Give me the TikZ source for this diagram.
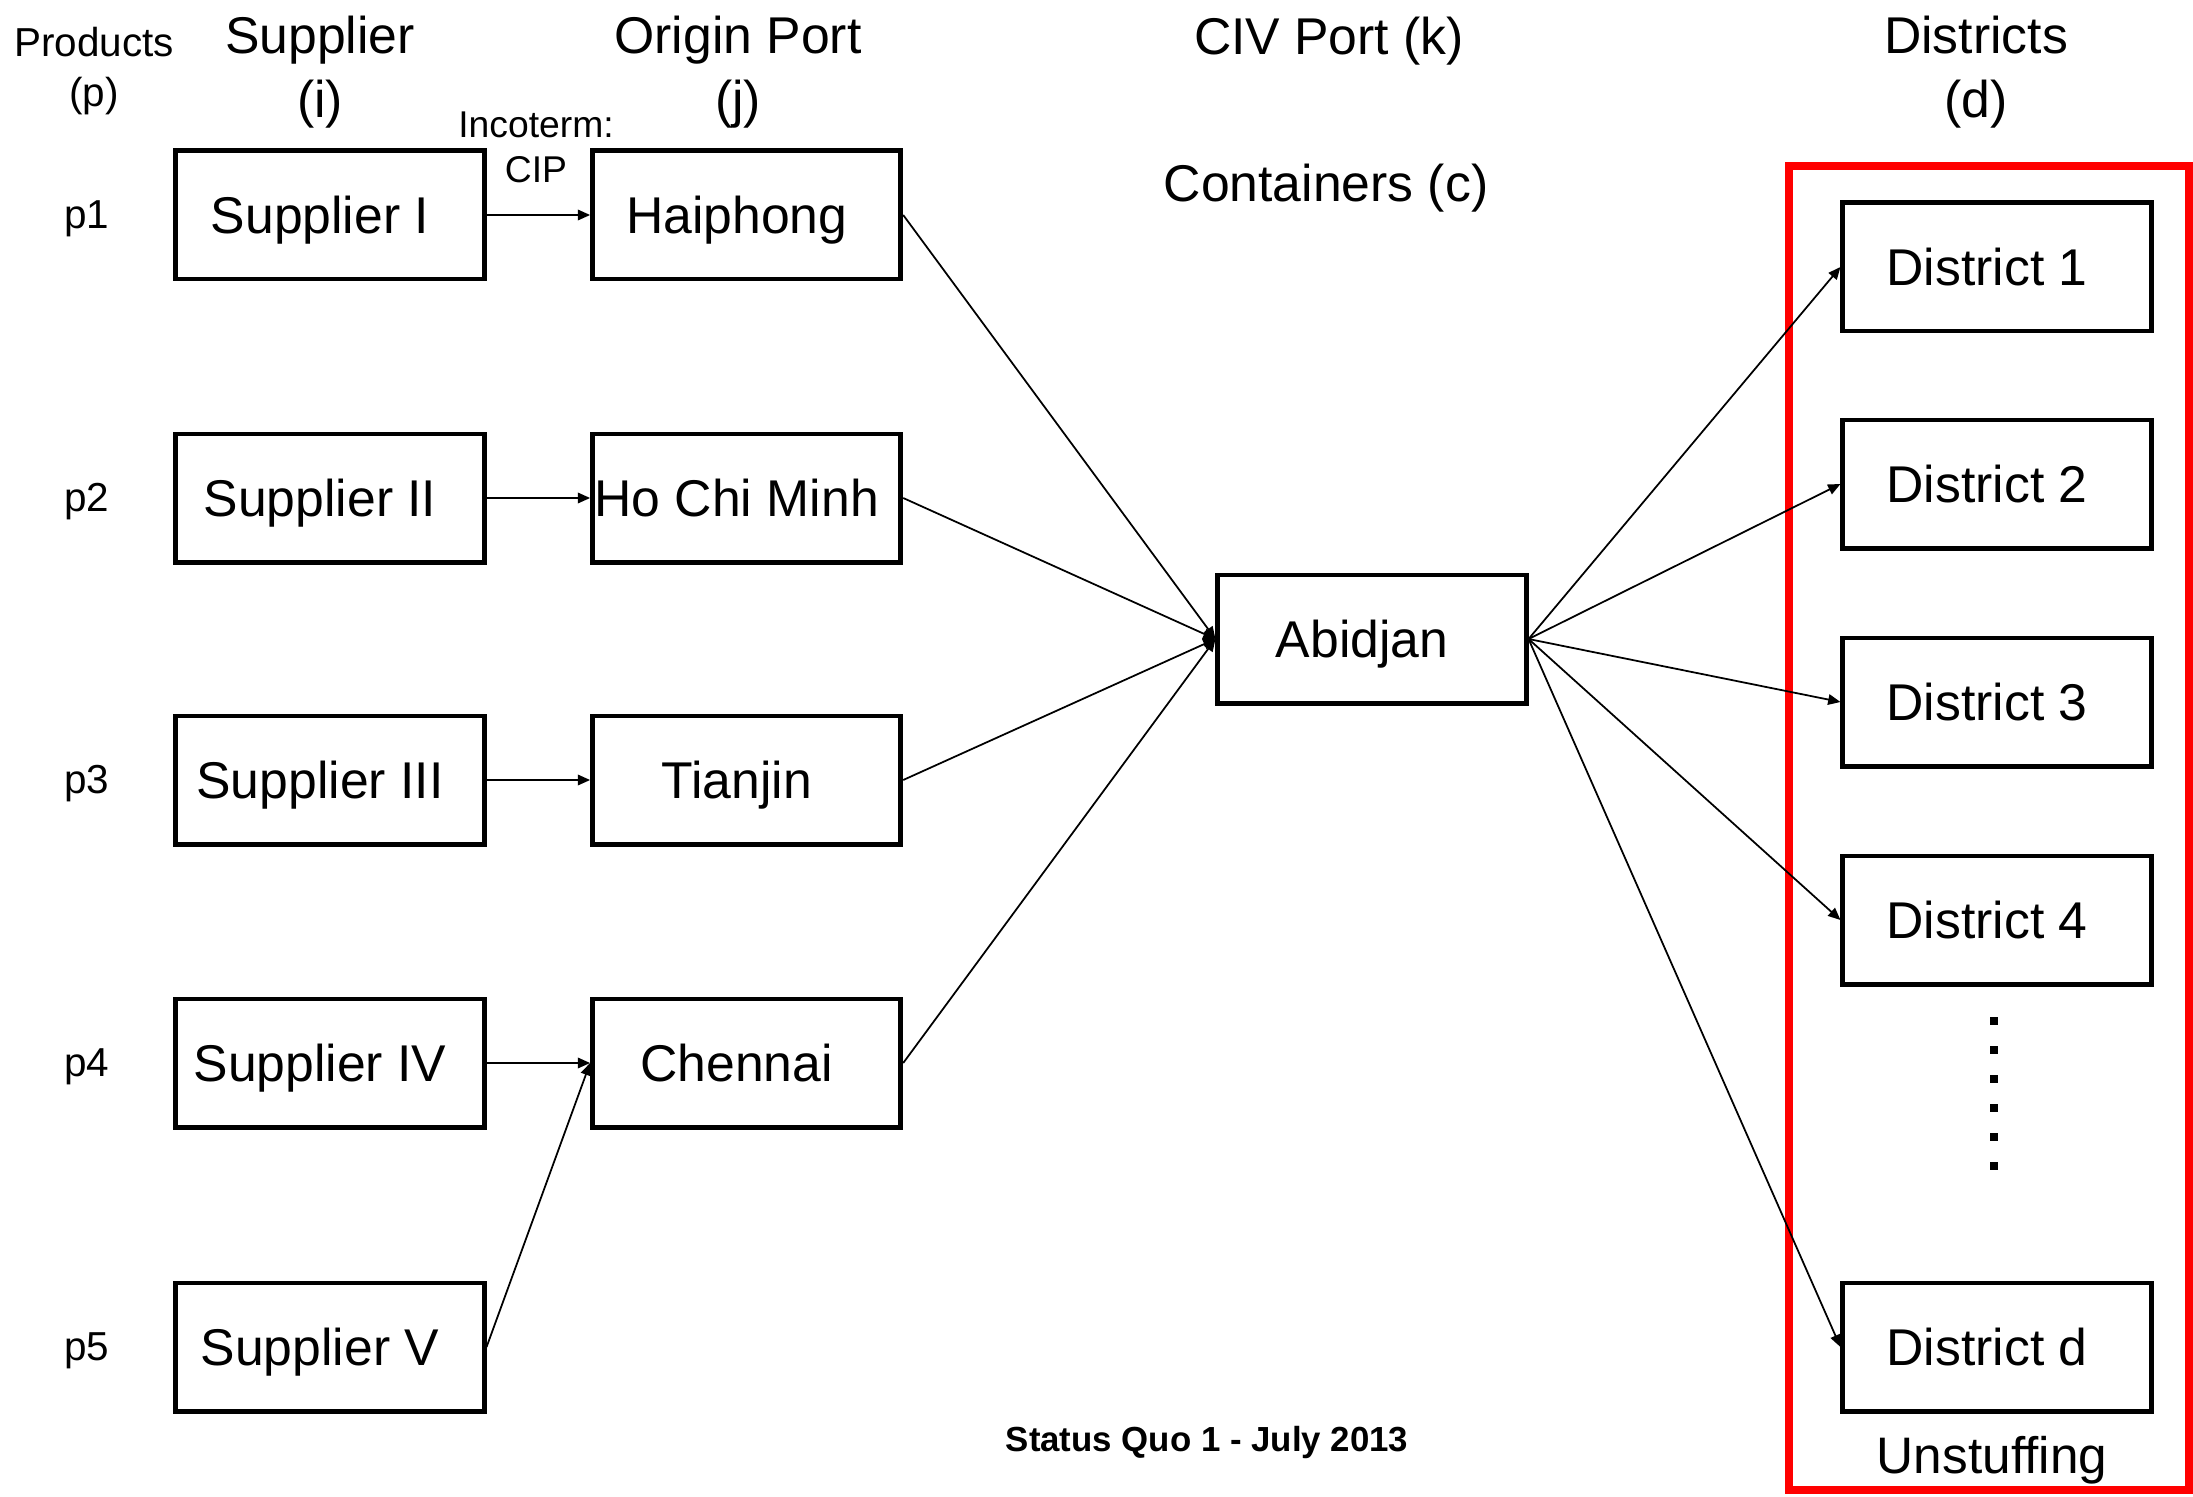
\documentclass[tikz,border=0pt]{standalone}
\usepackage{fontspec}
\setmainfont{Liberation Sans}
\usepackage{tikz}
\usetikzlibrary{arrows.meta,positioning}
\definecolor{redframe}{RGB}{255,0,0}

\begin{document}
\begin{tikzpicture}[x=0.01cm,y=-0.01cm,
  mybox/.style={draw,line width=1.4pt,minimum width=3.08cm,minimum height=1.28cm,inner sep=0pt,
    text height=0.37cm,text depth=0pt,execute at end node={\hspace*{0.2cm}},font=\fontsize{14.7}{16}\selectfont},
  myhead/.style={align=center,font=\fontsize{14.7}{18}\selectfont},
  mysmall/.style={align=center,font=\fontsize{11.5}{14}\selectfont},
  myarrow/.style={-{Triangle[length=3.5pt,width=3pt]},line width=0.5pt}
]
\useasboundingbox (0,0) rectangle (2193,1497);

% headers
\node[mysmall] (hp) at (94,71) {Products\\(p)};
\node[myhead] (hi) at (320,72) {Supplier\\(i)};
\node[myhead] (hj) at (738,72) {Origin Port\\(j)};
\node[myhead] (hk) at (1329,41) {CIV Port (k)};
\node[myhead] (hc) at (1326,188) {Containers (c)};
\node[myhead] (hd) at (1976,72) {Districts\\(d)};
\node[mysmall,font=\fontsize{10.6}{12.8}\selectfont] (inco) at (536,147) {Incoterm:\\CIP};

% suppliers and products
\foreach \n/\txt/\y in {1/Supplier I/215,2/Supplier II/498,3/Supplier III/780,4/Supplier IV/1063,5/Supplier V/1347}{
\node[mybox] at (330,\y) (S\n) {\txt};
\node[mysmall] at (87,\y+4) (p\n) {p\n};
}

% origin ports
\node[mybox, right=1.035cm of S1] (P1) {Haiphong};
\node[mybox, right=1.035cm of S2] (P2) {Ho Chi Minh};
\node[mybox, right=1.035cm of S3] (P3) {Tianjin};
\node[mybox, right=1.035cm of S4] (P4) {Chennai};

% CIV port
\node[mybox] at (1372,639) (A) {Abidjan};

% districts
\foreach \n/\txt/\y in {1/District 1/267,2/District 2/484,3/District 3/702,4/District 4/920,5/District d/1347}{
\node[mybox] at (1997,\y) (D\n) {\txt};
}
\foreach \y in {0,1,...,5}{
\fill (1994,1021+29*\y) +(-4,-4) rectangle +(4,4);
}
\draw[redframe,line width=2.3pt] (1789,166) rectangle (2189,1490);
\node[font=\fontsize{14.6}{16}\selectfont] at (1992,1460) (unst) {Unstuffing};

\node[font=\fontsize{9.9}{12}\selectfont\bfseries] at (1207,1442) (sq) {Status Quo 1 - July 2013};

% connectors
\foreach \n in {1,2,3,4}{
\draw[myarrow] (S\n.east) -- (P\n.west);
\draw[myarrow] (P\n.east) -- (A.west);
}
\draw[myarrow] (S5.east) -- (P4.west);
\foreach \n in {1,2,...,5}{
\draw[myarrow] (A.east) -- (D\n.west);
}

\end{tikzpicture}
\end{document}
